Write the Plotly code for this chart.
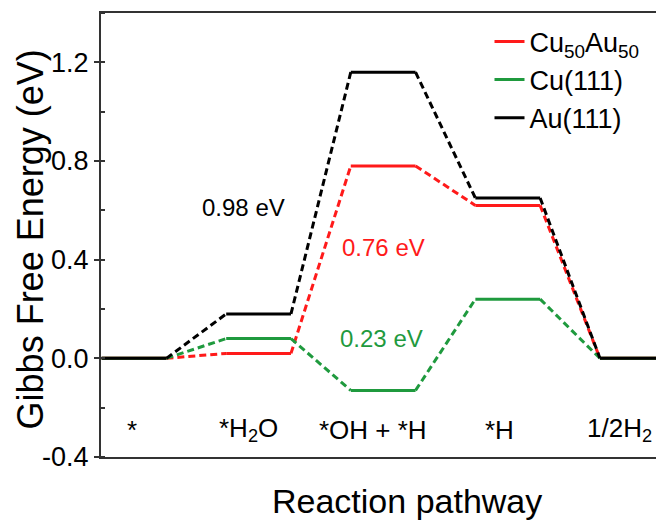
import plotly.graph_objects as go

# Reaction stages along the pathway
stages = ["*", "*H<sub>2</sub>O", "*OH + *H", "*H", "1/2H<sub>2</sub>"]

# Gibbs free energy of each stage (eV)
cuau_energy = [0.0, 0.02, 0.78, 0.62, 0.0]
cu_energy = [0.0, 0.08, -0.13, 0.24, 0.0]
au_energy = [0.0, 0.18, 1.16, 0.65, 0.0]

series_names = ["Cu<sub>50</sub>Au<sub>50</sub>", "Cu(111)", "Au(111)"]
series_values = [cuau_energy, cu_energy, au_energy]
series_colors = ["#ff1a1a", "#1f9a3e", "#000000"]

# Barrier labels
cu_barrier_text = "0.23 eV"

y_ticks = [-0.4, 0.0, 0.4, 0.8, 1.2]

FONT = "Liberation Sans, Arial, sans-serif"
HALF = 0.26  # half-width of each energy level

fig = go.Figure()

for name, vals, color in zip(series_names, series_values, series_colors):
    # solid horizontal levels
    lx, ly = [], []
    for i, v in enumerate(vals):
        lx += [i - HALF, i + HALF, None]
        ly += [v, v, None]
    # dashed connectors between consecutive levels
    cx, cy = [], []
    for i in range(len(vals) - 1):
        cx += [i + HALF, i + 1 - HALF, None]
        cy += [vals[i], vals[i + 1], None]
    fig.add_trace(go.Scatter(
        x=cx, y=cy, mode="lines", showlegend=False, legendgroup=name,
        line=dict(color=color, width=3, dash="7px,4px"), hoverinfo="skip",
    ))
    fig.add_trace(go.Scatter(
        x=lx, y=ly, mode="lines", name=name, legendgroup=name,
        line=dict(color=color, width=3),
    ))

# stage labels inside the plot
stage_x = [-0.02, 0.92, 1.92, 2.93, 3.90]
for sx, s in zip(stage_x, stages):
    fig.add_annotation(x=sx, y=-0.29, text=s, showarrow=False,
                       font=dict(family=FONT, size=26, color="black"),
                       xanchor="center", yanchor="middle")

# barrier annotations
fig.add_annotation(x=0.88, y=0.61,
                   text=f"{au_energy[2] - au_energy[1]:.2f} eV",
                   showarrow=False, font=dict(family=FONT, size=24, color="black"))
fig.add_annotation(x=2.0, y=0.45,
                   text=f"{cuau_energy[2] - cuau_energy[1]:.2f} eV",
                   showarrow=False, font=dict(family=FONT, size=24, color=series_colors[0]))
fig.add_annotation(x=1.99, y=0.08, text=cu_barrier_text,
                   showarrow=False, font=dict(family=FONT, size=24, color=series_colors[1]))

# axis titles
fig.add_annotation(xref="paper", yref="paper", x=0.551, y=-0.052,
                   text="Reaction pathway", showarrow=False,
                   xanchor="center", yanchor="top",
                   font=dict(family=FONT, size=34, color="black"))
fig.add_annotation(xref="paper", yref="paper", x=-0.128, y=0.49,
                   text="Gibbs Free Energy (eV)", showarrow=False,
                   textangle=-90, xanchor="center", yanchor="middle",
                   font=dict(family=FONT, size=36, color="black"))

fig.update_layout(
    width=656, height=522,
    margin=dict(l=101, r=0, t=13, b=65),
    paper_bgcolor="white", plot_bgcolor="white",
    font=dict(family=FONT, color="black"),
    showlegend=True,
    legend=dict(x=0.70, y=0.99, xanchor="left", yanchor="top",
                font=dict(family=FONT, size=27, color="black"),
                bgcolor="rgba(0,0,0,0)", tracegroupgap=0,
                traceorder="grouped"),
    xaxis=dict(range=[-0.265, 4.19], showgrid=False, zeroline=False,
               showticklabels=False, ticks="", showline=True,
               linecolor="#333333", linewidth=2, mirror=True),
    yaxis=dict(range=[-0.4, 1.4], showgrid=False, zeroline=False,
               tickvals=y_ticks, ticktext=[f"{v:.1f}" for v in y_ticks],
               ticks="outside", ticklen=5, tickwidth=1.5, tickcolor="#333333",
               minor=dict(dtick=0.2, tick0=-0.4, ticks="inside", ticklen=4,
                          tickwidth=1.5, tickcolor="#333333"),
               tickfont=dict(family=FONT, size=27, color="black"),
               showline=True, linecolor="#333333", linewidth=2, mirror=False),
)

fig.write_html("out.html")
